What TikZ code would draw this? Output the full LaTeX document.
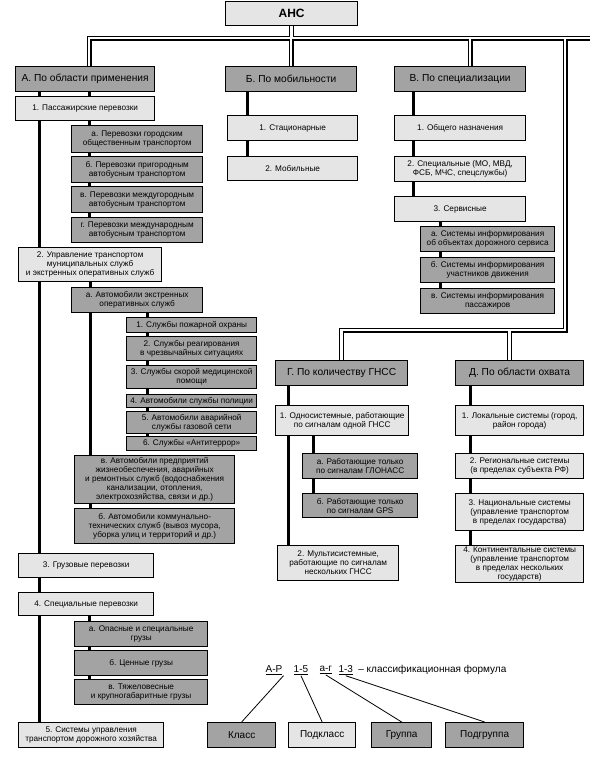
\documentclass[tikz,border=0pt]{standalone}
\usepackage{fontspec}
\setmainfont{Liberation Sans}
\usetikzlibrary{positioning,backgrounds}

\begin{document}
\begin{tikzpicture}[x=1pt, y=-1pt,
  tile/.style={draw=black, line width=1.3pt, anchor=north west, align=center,
    inner sep=0.5pt, font=\fontsize{8.2}{9}\selectfont},
  lite/.style={tile, fill=black!10},
  dark/.style={tile, fill=black!36},
  head/.style={dark, font=\fontsize{10.2}{12}\selectfont},
  sz/.style 2 args={minimum width=#1pt, minimum height=#2pt},
  link/.style={line width=3pt, black},
  busout/.style={line width=5pt, black},
  busin/.style={line width=2.6pt, white},
  lead/.style={line width=0.8pt, black},
  formula/.style={inner sep=1pt, font=\fontsize{10}{12}\selectfont}
]
\useasboundingbox (0,0) rectangle (594,758);

% ================= ROOT AND HEADERS =================
\node[lite, sz={132}{24}, font=\fontsize{12}{14}\selectfont\bfseries] (ans) at (225,1) {АНС};
\node[head, sz={139}{25}] (A) at (15,66) {А. По области применения};
\node[head, sz={131}{25}] (B) at (225,66) {Б. По мобильности};
\node[head, sz={131}{25}] (V) at (394,66) {В. По специализации};
\node[head, sz={132}{25}] (G) at (275,360) {Г. По количеству ГНСС};
\node[head, sz={128}{25}] (D) at (455,360) {Д. По области охвата};

% ================= A: AREA OF USE =================
\node[lite, sz={139}{24}] (A1) at (15,96) {1. Пассажирские перевозки};
\node[dark, sz={131}{27}] (A1a) at (71,125) {а. Перевозки городским\\общественным транспортом};
\node[dark, sz={131}{26}] (A1b) at (71,156) {б. Перевозки пригородным\\автобусным транспортом};
\node[dark, sz={131}{26}] (A1c) at (71,186) {в. Перевозки междугородным\\автобусным транспортом};
\node[dark, sz={131}{25}] (A1d) at (71,217) {г. Перевозки международным\\автобусным транспортом};

\node[lite, sz={143}{34}] (A2) at (18,247) {2. Управление транспортом\\муниципальных служб\\и экстренных оперативных служб};
\node[dark, sz={131}{25}] (A2a) at (71,287) {а. Автомобили экстренных\\оперативных служб};
\node[dark, sz={130}{15}] (A21) at (126,317) {1. Службы пожарной охраны};
\node[dark, sz={130}{24}] (A22) at (126,336) {2. Службы реагирования\\в чрезвычайных ситуациях};
\node[dark, sz={130}{23}] (A23) at (126,365) {3. Службы скорой медицинской\\помощи};
\node[dark, sz={130}{13}] (A24) at (126,394) {4. Автомобили службы полиции};
\node[dark, sz={130}{22}] (A25) at (126,411) {5. Автомобили аварийной\\службы газовой сети};
\node[dark, sz={130}{14}] (A26) at (126,436) {6. Службы «Антитеррор»};
\node[dark, sz={160}{48}] (A2c) at (74,455) {в. Автомобили предприятий\\жизнеобеспечения, аварийных\\и ремонтных служб (водоснабжения\\канализации, отопления,\\электрохозяйства, связи и др.)};
\node[dark, sz={160}{35}] (A2b) at (74,508) {б. Автомобили коммунально-\\технических служб (вывоз мусора,\\уборка улиц и территорий и др.)};

\node[lite, sz={135}{24}] (A3) at (18,553) {3. Грузовые перевозки};
\node[lite, sz={135}{23}] (A4) at (18,592) {4. Специальные перевозки};
\node[dark, sz={133}{25}] (A4a) at (74,621) {а. Опасные и специальные\\грузы};
\node[dark, sz={133}{25}] (A4b) at (74,650) {б. Ценные грузы};
\node[dark, sz={133}{25}] (A4c) at (74,679) {в. Тяжеловесные\\и крупногабаритные грузы};
\node[lite, sz={145}{25}] (A5) at (18,722) {5. Системы управления\\транспортом дорожного хозяйства};

% ================= B: MOBILITY =================
\node[lite, sz={130}{25}] (B1) at (227,115) {1. Стационарные};
\node[lite, sz={130}{24}] (B2) at (227,156) {2. Мобильные};

% ================= V: SPECIALISATION =================
\node[lite, sz={131}{25}] (V1) at (394,115) {1. Общего назначения};
\node[lite, sz={131}{25}] (V2) at (394,156) {2. Специальные (МО, МВД,\\ФСБ, МЧС, спецслужбы)};
\node[lite, sz={131}{25}] (V3) at (394,196) {3. Сервисные};
\node[dark, sz={134}{25}] (V3a) at (420,226) {а. Системы информирования\\об объектах дорожного сервиса};
\node[dark, sz={134}{25}] (V3b) at (420,257) {б. Системы информирования\\участников движения};
\node[dark, sz={134}{25}] (V3c) at (420,288) {в. Системы информирования\\пассажиров};

% ================= G: NUMBER OF GNSS =================
\node[lite, sz={133}{30}] (G1) at (275,405) {1. Односистемные, работающие\\по сигналам одной ГНСС};
\node[dark, sz={115}{25}] (G1a) at (302,453) {а. Работающие только\\по сигналам ГЛОНАСС};
\node[dark, sz={115}{24}] (G1b) at (302,493) {б. Работающие только\\по сигналам GPS};
\node[lite, sz={121}{35}] (G2) at (277,545) {2. Мультисистемные,\\работающие по сигналам\\нескольких ГНСС};

% ================= D: COVERAGE =================
\node[lite, sz={128}{30}] (D1) at (455,405) {1. Локальные системы (город,\\район города)};
\node[lite, sz={128}{25}] (D2) at (455,453) {2. Региональные системы\\(в пределах субъекта РФ)};
\node[lite, sz={128}{37}] (D3) at (455,493) {3. Национальные системы\\(управление транспортом\\в пределах государства)};
\node[lite, sz={128}{37}] (D4) at (455,545) {4. Континентальные системы\\(управление транспортом\\в пределах нескольких\\государств)};

% ================= FORMULA =================
\node[formula] (fAR) at (274,670) {\underline{А-Р}};
\node[formula, right=9pt of fAR] (f15) {\underline{1-5}};
\node[formula, right=9pt of f15] (fag) {\underline{а-г}};
\node[formula, right=4pt of fag] (f13) {\underline{1-3}};
\node[formula, right=3pt of f13] (ftxt) {– классификационная формула};

\node[dark, sz={68}{25}, font=\fontsize{10}{12}\selectfont] (klass) at (207,722) {Класс};
\node[lite, sz={67}{25}, font=\fontsize{10}{12}\selectfont] (podkl) at (288,722) {Подкласс};
\node[dark, sz={60}{25}, font=\fontsize{10}{12}\selectfont] (grp) at (371,722) {Группа};
\node[dark, sz={78}{25}, font=\fontsize{10}{12}\selectfont] (pgrp) at (445,722) {Подгруппа};

\draw[lead] (fAR.south east) -- (klass.north);
\draw[lead] (f15.south) -- (podkl.north);
\draw[lead] (fag.south) -- (grp.north);
\draw[lead] (f13.south) -- (pgrp.north);

% ================= CONNECTORS =================
\begin{scope}[on background layer]
% single thick lines
\draw[link] ([xshift=24pt]A.south west) coordinate (t) -- (t |- A5.north);
\draw[link] ([xshift=4pt]A.south) coordinate (t) -- (t |- A1d.north);
\draw[link] (A2.south) -- (A2.south |- A2b.north);
\draw[link] ([xshift=10pt]A2a.south) coordinate (t) -- (t |- A26.north);
\draw[link] ([xshift=3pt]A4.south) coordinate (t) -- (t |- A4c.north);
\draw[link] ([xshift=22pt]B.south west) coordinate (t) -- (t |- B2.north);
\draw[link] ([xshift=19pt]V.south west) coordinate (t) -- (t |- V3.north);
\draw[link] ([xshift=46pt]V3.south west) coordinate (t) -- (t |- V3c.north);
\draw[link] ([xshift=13pt]G.south west) coordinate (t) -- (t |- G2.north);
\draw[link] ([xshift=38pt]G1.south west) coordinate (t) -- (t |- G1b.north);
\draw[link] ([xshift=15pt]D.south west) coordinate (t) -- (t |- D4.north);

% double bus lines
\coordinate (busR) at (590,38);
\coordinate (busT) at (565,38);
\coordinate (busD) at (565,330);
\foreach \ly in {busout,busin} {
  \draw[\ly] (ans.south) -- (ans.south |- busR);
  \draw[\ly] ([xshift=4pt]A.north) coordinate (t) |- (busR);
  \draw[\ly] (B.north) -- (B.north |- busR);
  \draw[\ly] ([xshift=10pt]V.north) coordinate (t) -- (t |- busR);
  \draw[\ly] (busT) -- (busD) -| (G.north);
  \draw[\ly] ([xshift=-10pt]D.north) coordinate (t) -- (t |- busD);
}
\end{scope}

\end{tikzpicture}
\end{document}
